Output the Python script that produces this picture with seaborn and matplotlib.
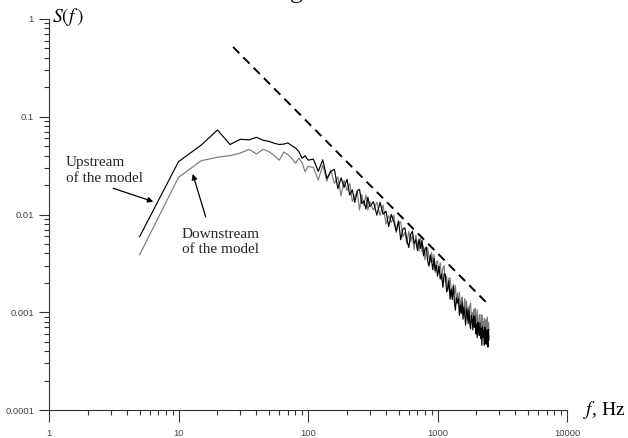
import numpy as np
import pandas as pd
import matplotlib
matplotlib.use("Agg")
import matplotlib.pyplot as plt
import seaborn as sns
from matplotlib.ticker import FixedLocator, FixedFormatter, NullFormatter

# ---------------- data ----------------
freq_hz = [
    5, 10, 15, 20, 25, 30, 35, 40, 45, 50, 55, 60, 65, 70, 75, 80, 85, 90, 95, 100,
    110, 120, 130, 140, 150, 160, 170, 180, 190, 200, 210, 220, 230, 240, 250, 260, 270, 280, 290, 300,
    320, 340, 360, 380, 400, 420, 440, 460, 480, 500, 520, 540, 560, 580, 600, 620, 640, 660, 680, 700,
    720, 740, 760, 780, 800, 820, 840, 860, 880, 900, 920, 940, 960, 980, 1000,
    1025, 1050, 1075, 1100, 1125, 1150, 1175, 1200, 1225, 1250, 1275, 1300, 1325, 1350, 1375, 1400,
    1425, 1450, 1475, 1500, 1525, 1550, 1575, 1600, 1625, 1650, 1675, 1700, 1725, 1750, 1775, 1800,
    1825, 1850, 1875, 1900, 1925, 1950, 1975, 2000, 2025, 2050, 2075, 2100, 2125, 2150, 2175, 2200,
    2225, 2250, 2275, 2300, 2325, 2350, 2375, 2400, 2425, 2450, 2475, 2500,
]

upstream_S = [
    0.0059, 0.0347, 0.0514, 0.0732, 0.052, 0.0588, 0.058, 0.0616, 0.0575, 0.056,
    0.0535, 0.052, 0.0525, 0.054, 0.0505, 0.048, 0.044, 0.0376, 0.040, 0.036,
    0.0368, 0.0276, 0.0363, 0.0234, 0.0276, 0.0289, 0.0184, 0.0237, 0.0190, 0.0229,
    0.0158, 0.0179, 0.0133, 0.0174, 0.0181, 0.0129, 0.0138, 0.0114, 0.0150, 0.0120,
    0.01355, 0.00986, 0.01332, 0.01007, 0.0108, 0.00754, 0.0100, 0.00845, 0.00678, 0.00861,
    0.00552, 0.0071, 0.0073, 0.00549, 0.0046, 0.00627, 0.00672, 0.00506, 0.00551, 0.00428,
    0.0056, 0.00451, 0.00543, 0.00378, 0.00441, 0.00464, 0.00334, 0.00296, 0.00385, 0.00337,
    0.00272, 0.00354, 0.00267, 0.00302, 0.00234,
    0.00295, 0.00219, 0.00247, 0.00180, 0.00247, 0.00244, 0.00162, 0.00174, 0.00210, 0.00136,
    0.00173, 0.00135, 0.00184, 0.00129, 0.00105, 0.00141, 0.00124, 0.00138, 0.00093, 0.00119,
    0.00097, 0.00128, 0.00085, 0.00113, 0.00093, 0.00074, 0.00108, 0.00098, 0.00077, 0.00106,
    0.00077, 0.00068, 0.00093, 0.00084, 0.00066, 0.00092, 0.00070, 0.00092, 0.00060, 0.00075,
    0.00055, 0.00079, 0.00069, 0.00058, 0.00078, 0.00054, 0.00068, 0.00046, 0.00071, 0.00055,
    0.00065, 0.00046, 0.00070, 0.00051, 0.00047, 0.00066, 0.00058, 0.00044, 0.00067, 0.00052,
]

downstream_S = [
    0.00385, 0.024, 0.0355, 0.0385, 0.040, 0.0425, 0.0464, 0.0416, 0.0464, 0.044,
    0.040, 0.036, 0.0435, 0.041, 0.0375, 0.0335, 0.0376, 0.034, 0.0274, 0.031,
    0.0304, 0.0225, 0.0319, 0.0220, 0.0284, 0.0208, 0.0242, 0.0155, 0.0224, 0.0176,
    0.0207, 0.0136, 0.0154, 0.0171, 0.0111, 0.0160, 0.0124, 0.0158, 0.0111, 0.0136,
    0.0111, 0.01334, 0.00977, 0.01251, 0.0080, 0.00975, 0.00827, 0.00984, 0.00655, 0.00803,
    0.00842, 0.0059, 0.00659, 0.0050, 0.00673, 0.00524, 0.00616, 0.0044, 0.00615, 0.0049,
    0.00425, 0.00576, 0.00414, 0.00475, 0.00344, 0.00448, 0.00456, 0.00359, 0.00323, 0.0041,
    0.00329, 0.00389, 0.00256, 0.0033, 0.00334,
    0.00252, 0.00322, 0.00216, 0.00281, 0.00300, 0.00202, 0.00234, 0.00164, 0.00224, 0.00224,
    0.00168, 0.00144, 0.00194, 0.00156, 0.00189, 0.00124, 0.00157, 0.00121, 0.00161, 0.00104,
    0.00135, 0.00143, 0.00099, 0.00111, 0.00138, 0.00099, 0.00130, 0.00084, 0.00114, 0.00094,
    0.00117, 0.00124, 0.00084, 0.00100, 0.00077, 0.00106, 0.00086, 0.00109, 0.00095, 0.00073,
    0.00106, 0.00074, 0.00066, 0.00092, 0.00095, 0.00075, 0.00063, 0.00094, 0.00067, 0.00080,
    0.00062, 0.00087, 0.00077, 0.00059, 0.00084, 0.00067, 0.00089, 0.00062, 0.00078, 0.00065,
]

slope_f = [26.4, 2410]
slope_S = [0.517, 0.00124]

x_ticks = [1, 10, 100, 1000, 10000]
x_tick_labels = ["1", "10", "100", "1000", "10000"]
y_ticks = [0.0001, 0.001, 0.01, 0.1, 1]
y_tick_labels = ["0.0001", "0.001", "0.01", "0.1", "1"]

assert len(freq_hz) == len(upstream_S) == len(downstream_S)

# ---------------- styling ----------------
sns.set_style("ticks")
plt.rcParams['font.family'] = ['Liberation Sans', 'DejaVu Sans']
plt.rcParams['mathtext.fontset'] = 'stix'

W, H = 628, 438
fig = plt.figure(figsize=(W / 100, H / 100), dpi=100)
ax = fig.add_axes([49 / W, (H - 410) / H, 518 / W, 391 / H])

df = pd.DataFrame({
    "f": freq_hz + freq_hz,
    "S": upstream_S + downstream_S,
    "series": ["Upstream"] * len(freq_hz) + ["Downstream"] * len(freq_hz),
})

sns.lineplot(data=df[df["series"] == "Downstream"], x="f", y="S", color="#7a7a7a",
             lw=0.85, estimator=None, sort=False, ax=ax, legend=False)
sns.lineplot(data=df[df["series"] == "Upstream"], x="f", y="S", color="black",
             lw=0.85, estimator=None, sort=False, ax=ax, legend=False)
sns.lineplot(x=slope_f, y=slope_S, color="black", lw=1.4, ax=ax, legend=False,
             linestyle=(0, (4.5, 3)))

ax.set_xscale("log")
ax.set_yscale("log")
ax.set_xlim(1, 10000)
ax.set_ylim(1e-4, 1)
ax.set_xlabel("")
ax.set_ylabel("")

ax.xaxis.set_major_locator(FixedLocator(x_ticks))
ax.xaxis.set_major_formatter(FixedFormatter(x_tick_labels))
ax.yaxis.set_major_locator(FixedLocator(y_ticks))
ax.yaxis.set_major_formatter(FixedFormatter(y_tick_labels))
minor_x = [k * 10 ** d for d in range(0, 4) for k in range(2, 10)]
minor_y = [k * 10.0 ** d for d in range(-4, 0) for k in range(2, 10)]
ax.xaxis.set_minor_locator(FixedLocator(minor_x))
ax.yaxis.set_minor_locator(FixedLocator(minor_y))
ax.xaxis.set_minor_formatter(NullFormatter())
ax.yaxis.set_minor_formatter(NullFormatter())

axis_col = "#333333"
for side in ("top", "right"):
    ax.spines[side].set_visible(False)
for side in ("left", "bottom"):
    ax.spines[side].set_color(axis_col)
    ax.spines[side].set_linewidth(0.8)

ax.tick_params(axis="both", which="both", bottom=True, left=True, top=False, right=False)
ax.tick_params(axis="x", which="major", direction="out", length=8.4, width=0.8,
               color=axis_col, labelsize=6.8, labelcolor="#444444", pad=5)
ax.tick_params(axis="x", which="minor", direction="out", length=3.8, width=0.8,
               color=axis_col)
ax.tick_params(axis="y", which="major", direction="out", length=7.2, width=0.8,
               color=axis_col, labelsize=6.8, labelcolor="#444444", pad=3.6)
ax.tick_params(axis="y", which="minor", direction="out", length=3.6, width=0.8,
               color=axis_col)
ax.grid(False)

serif = ["Liberation Serif", "DejaVu Serif"]

# axis titles
ax.text(0.006, 1.004, r"$S(f\,)$", transform=ax.transAxes, fontsize=14,
        ha="left", va="center", color="black")
ax.text(1.030, 0.0, r"$f$, Hz", transform=ax.transAxes, fontsize=14,
        family=serif, ha="left", va="center", color="black")

# annotations
ax.text(1.353, 0.0217, "Upstream\nof the model", family=serif, fontsize=11,
        ha="left", va="baseline", linespacing=1.25)
ax.annotate("", xy=(6.39, 0.01352), xytext=(3.14, 0.01853),
            arrowprops=dict(arrowstyle="-|>", color="black", lw=0.9,
                            mutation_scale=8, shrinkA=0, shrinkB=0))
ax.text(10.6, 0.00401, "Downstream\nof the model", family=serif, fontsize=11,
        ha="left", va="baseline", linespacing=1.25)
ax.annotate("", xy=(12.88, 0.02596), xytext=(16.2, 0.0095),
            arrowprops=dict(arrowstyle="-|>", color="black", lw=0.9,
                            mutation_scale=8, shrinkA=0, shrinkB=0))

# clipped caption fragment at the very top (as in the reference)
fig.text(290 / W, 1 + 2.4 / H, "g", family=serif, fontsize=19, ha="left",
         va="baseline")

fig.savefig("out.png", dpi=100, facecolor="white")
